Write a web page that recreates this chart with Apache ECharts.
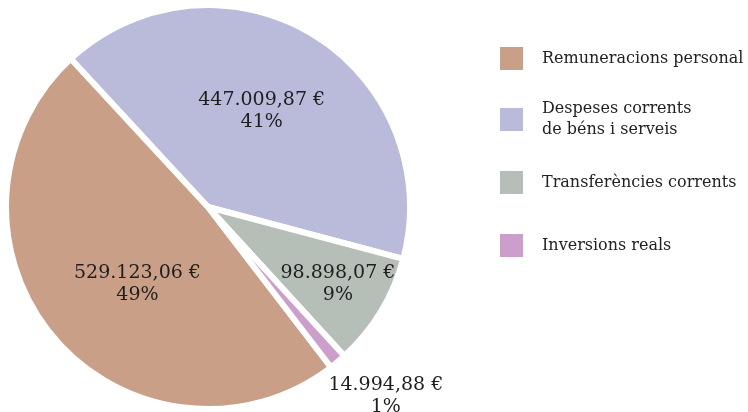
<!DOCTYPE html>
<html>
<head>
<meta charset="utf-8">
<script src="https://cdn.jsdelivr.net/npm/echarts@6/dist/echarts.min.js"></script>
<style>
  html, body { margin: 0; padding: 0; background: #fff; }
  #chart { width: 748px; height: 412px; }
</style>
</head>
<body>
<div id="chart"></div>
<script>
// dades del gràfic
const categories = ['Remuneracions personal', 'Despeses corrents\nde béns i serveis', 'Transferències corrents', 'Inversions reals']
const values = [529123.06, 447009.87, 98898.07, 14994.88]
const colors = ['#C9A087', '#BABADB', '#B5BFB7', '#CC9ECC']

// desplaçament de les etiquetes respecte de la posició per defecte
const labelShift = [[9, 10], [0, -7], [41, 23], [111, 109]]
// posició vertical de cada entrada de la llegenda
const legendTops = [45, 88, 169, 232]

const font = 'DejaVu Serif'

const fmtEuro = (v) => {
    let [ent, dec] = v.toFixed(2).split('.')
    ent = ent.replace(/\B(?=(\d{3})+(?!\d))/g, '.')
    return ent + ',' + dec + ' €'
}

let myChart = echarts.init(document.getElementById('chart'))

let legends = categories.map((name, i) => {
    let ts = { fontFamily: font, fontSize: 16, color: '#222', lineHeight: 21, padding: [0, 0, 0, 13] }
    if (name.indexOf('\n') >= 0) {
        ts.padding = [21, 0, 0, 13]
        ts.backgroundColor = 'rgba(255,255,255,0)'
    }
    return {
        orient: 'vertical',
        left: 498,
        top: legendTops[i],
        padding: 0,
        itemWidth: 25,
        itemHeight: 25,
        icon: 'rect',
        selectedMode: false,
        data: [{ name, textStyle: ts }]
    }
})

let option = {
    animation: false,
    color: colors,
    legend: legends,
    series: [{
        type: 'pie',
        center: [208, 207],
        radius: 202,
        startAngle: 307.5,
        clockwise: true,
        avoidLabelOverlap: false,
        emphasis: { disabled: true },
        itemStyle: { borderColor: '#fff', borderWidth: 6 },
        label: {
            show: true,
            position: 'inside',
            fontFamily: font,
            fontSize: 19,
            lineHeight: 22,
            color: '#1e1e1e',
            formatter: (p) => fmtEuro(p.value) + '\n' + p.percent + '%'
        },
        labelLine: { show: false },
        percentPrecision: 0,
        labelLayout: (p) => ({ dx: labelShift[p.dataIndex][0], dy: labelShift[p.dataIndex][1] }),
        data: categories.map((name, i) => ({ name, value: values[i] }))
    }]
}
myChart.setOption(option)
</script>
</body>
</html>
